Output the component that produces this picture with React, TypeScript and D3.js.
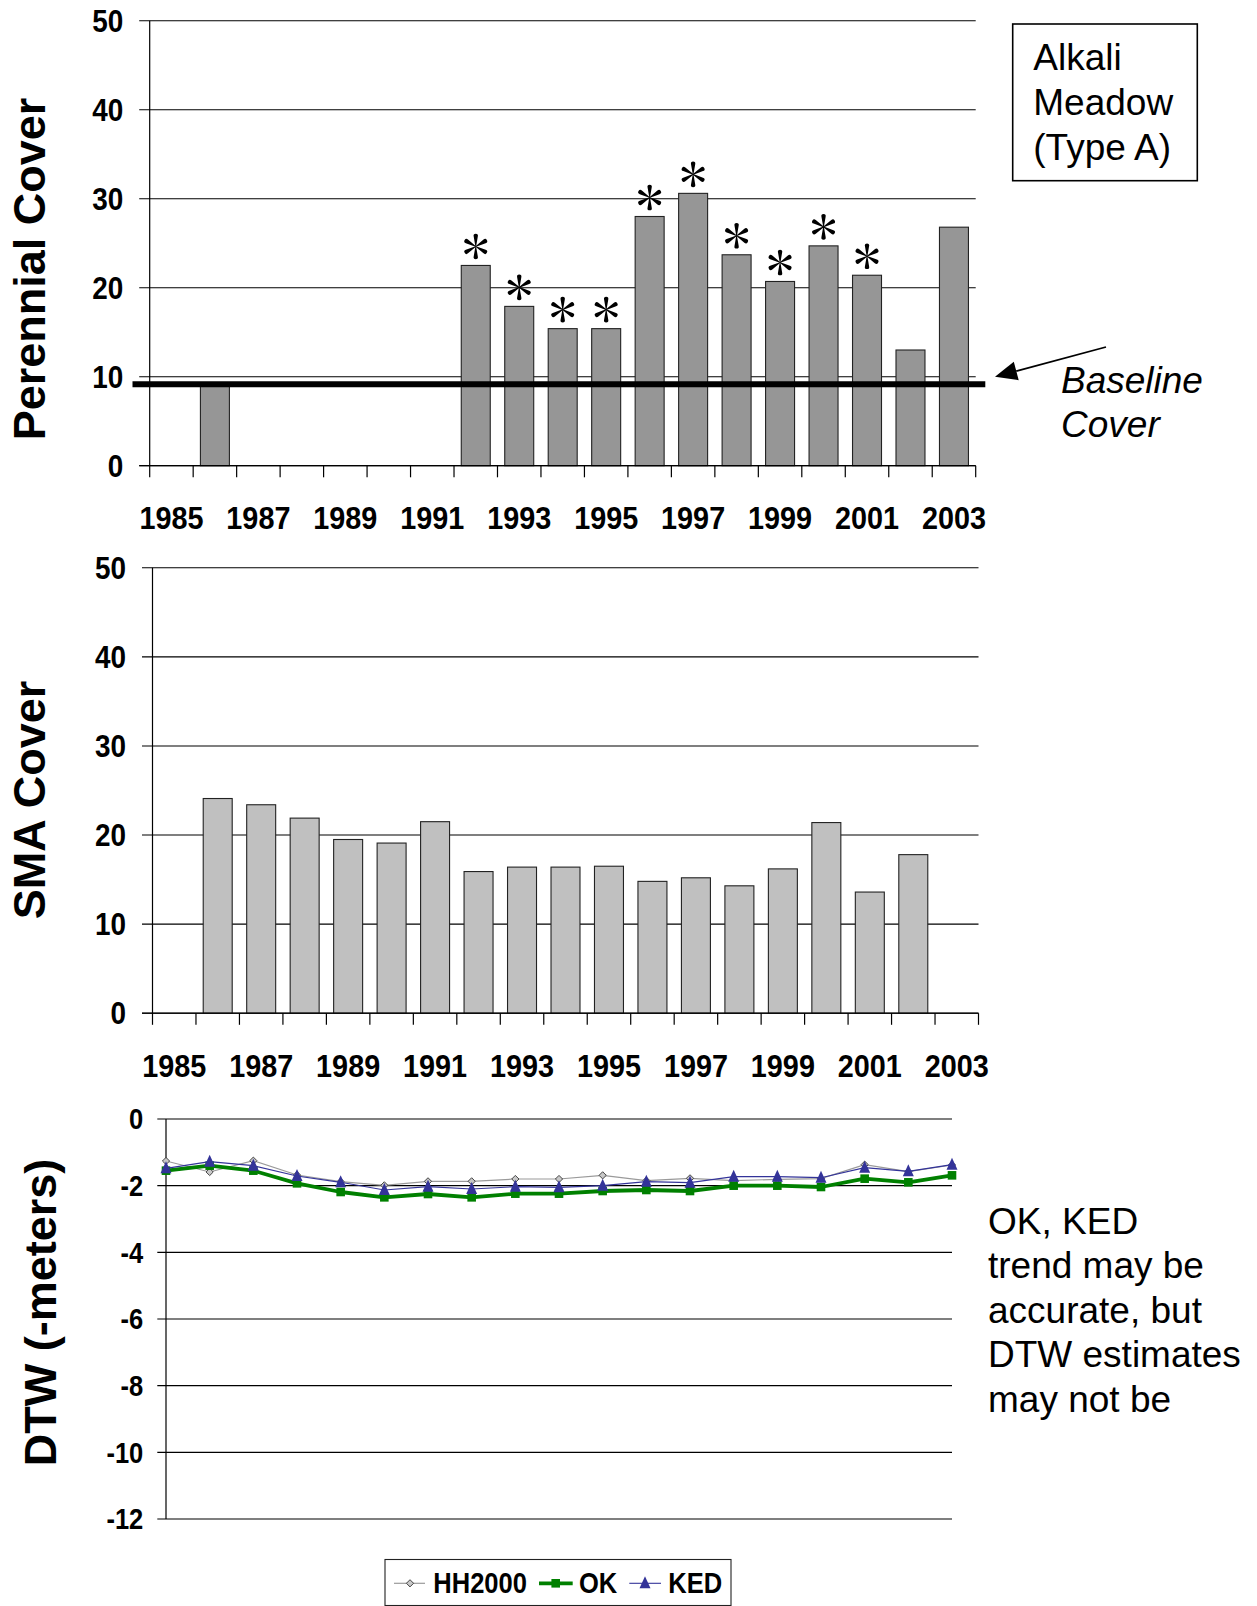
import React from "react";
import * as d3 from "d3";

// ---- data ----
const YEARS = [1985, 1986, 1987, 1988, 1989, 1990, 1991, 1992, 1993, 1994, 1995, 1996, 1997, 1998, 1999, 2000, 2001, 2002, 2003];
const YEAR_LABELS = [1985, 1987, 1989, 1991, 1993, 1995, 1997, 1999, 2001, 2003];

const PERENNIAL_COVER: (number | null)[] = [null, 9.3, null, null, null, null, null, 22.5, 17.9, 15.4, 15.4, 28.0, 30.6, 23.7, 20.7, 24.7, 21.4, 13.0, 26.8];
const SIGNIFICANT_YEARS = [1992, 1993, 1994, 1995, 1996, 1997, 1998, 1999, 2000, 2001];
const BASELINE_COVER = 9.15;

const SMA_COVER: (number | null)[] = [null, 24.1, 23.4, 21.9, 19.5, 19.1, 21.5, 15.9, 16.4, 16.4, 16.5, 14.8, 15.2, 14.3, 16.2, 21.4, 13.6, 17.8, null];

const COVER_TICKS = [0, 10, 20, 30, 40, 50];
const DTW_TICKS = [0, -2, -4, -6, -8, -10, -12];

const DTW_HH2000 = [-1.26, -1.59, -1.25, -1.68, -1.88, -1.99, -1.87, -1.87, -1.8, -1.8, -1.69, -1.85, -1.78, -1.85, -1.81, -1.79, -1.37, -1.58, -1.38];
const DTW_OK = [-1.55, -1.4, -1.55, -1.93, -2.19, -2.35, -2.25, -2.35, -2.24, -2.24, -2.16, -2.13, -2.16, -2.0, -2.0, -2.04, -1.79, -1.9, -1.69];
const DTW_KED = [-1.48, -1.28, -1.4, -1.71, -1.9, -2.13, -2.03, -2.1, -2.03, -2.05, -2.0, -1.88, -1.91, -1.73, -1.73, -1.76, -1.46, -1.57, -1.37];

const SERIES_NAMES = ["HH2000", "OK", "KED"];
const NOTE_LINES = ["OK, KED", "trend may be", "accurate, but", "DTW estimates", "may not be"];

const SANS = "'Liberation Sans', Arial, sans-serif";

// bold, slightly narrow label text
function NarrowText({ x, y, size, sx = 0.9, anchor = "middle", children }: any) {
  return (
    <text
      transform={`translate(${x},${y}) scale(${sx},1)`}
      fontSize={size}
      fontWeight="bold"
      fontFamily={SANS}
      textAnchor={anchor}
      fill="#000"
    >
      {children}
    </text>
  );
}

// six-armed asterisk with teardrop arms, centred on (0,0)
const ASTERISK_ARM = "M-0.35,0L-2.1,-10.2A2.15,2.15 0 1 1 2.1,-10.2L0.35,0Z";
function Asterisk({ cx, cy }: { cx: number; cy: number }) {
  return (
    <g transform={`translate(${cx},${cy})`}>
      {[0, 60, 120, 180, 240, 300].map((a) => (
        <path key={a} d={ASTERISK_ARM} transform={`rotate(${a})`} fill="#000" />
      ))}
    </g>
  );
}

type BarPanelProps = {
  left: number;
  right: number;
  top: number;
  bottom: number;
  values: (number | null)[];
  fill: string;
  title: string;
  titleX: number;
  titleY: number;
  stars?: number[];
  baseline?: { value: number; x0: number; x1: number };
};

function BarPanel({ left, right, top, bottom, values, fill, title, titleX, titleY, stars, baseline }: BarPanelProps) {
  const x = d3.scaleBand<number>().domain(YEARS).range([left, right]).paddingInner(1 / 3).paddingOuter(1 / 6);
  const edge = d3.scaleLinear().domain([0, YEARS.length]).range([left, right]);
  const y = d3.scaleLinear().domain([0, 50]).range([bottom, top]);
  const bw = x.bandwidth();

  return (
    <g>
      {/* gridlines with left ticks */}
      {COVER_TICKS.map((t) => (
        <line key={"g" + t} x1={left - 10.5} x2={right} y1={y(t)} y2={y(t)} stroke="#000" strokeWidth={1.1} />
      ))}
      {COVER_TICKS.map((t) => (
        <NarrowText key={"yl" + t} x={left - 26.5} y={y(t) + 11.2} size={31} anchor="end">
          {t}
        </NarrowText>
      ))}
      {/* bars */}
      {YEARS.map((yr, i) => {
        const v = values[i];
        if (v == null) return null;
        return (
          <rect
            key={"b" + yr}
            x={x(yr)}
            y={y(v)}
            width={bw}
            height={bottom - y(v)}
            fill={fill}
            stroke="#222"
            strokeWidth={1.1}
          />
        );
      })}
      {/* axes */}
      <line x1={left} x2={left} y1={top} y2={bottom} stroke="#000" strokeWidth={1.2} />
      <line x1={left - 10.5} x2={right} y1={bottom} y2={bottom} stroke="#000" strokeWidth={1.2} />
      {d3.range(YEARS.length + 1).map((i) => (
        <line key={"xt" + i} x1={edge(i)} x2={edge(i)} y1={bottom} y2={bottom + 11.6} stroke="#000" strokeWidth={1.2} />
      ))}
      {YEAR_LABELS.map((yr) => (
        <NarrowText key={"xl" + yr} x={(x(yr) as number) + bw / 2} y={bottom + 63.6} size={32}>
          {yr}
        </NarrowText>
      ))}
      {/* significance markers */}
      {stars &&
        stars.map((yr) => {
          const v = values[YEARS.indexOf(yr)] as number;
          return <Asterisk key={"s" + yr} cx={(x(yr) as number) + bw / 2} cy={y(v) - 19} />;
        })}
      {baseline && (
        <line
          x1={baseline.x0}
          x2={baseline.x1}
          y1={y(baseline.value)}
          y2={y(baseline.value)}
          stroke="#000"
          strokeWidth={6}
        />
      )}
      <text
        transform={`translate(${titleX},${titleY}) rotate(-90)`}
        fontSize={45}
        fontWeight="bold"
        fontFamily={SANS}
        textAnchor="middle"
      >
        {title}
      </text>
    </g>
  );
}

const diamondPath = (cx: number, cy: number, r: number) => `M${cx},${cy - r}L${cx + r},${cy}L${cx},${cy + r}L${cx - r},${cy}Z`;
const squarePath = (cx: number, cy: number, r: number) => `M${cx - r},${cy - r}H${cx + r}V${cy + r}H${cx - r}Z`;
const trianglePath = (cx: number, cy: number, w: number, h: number) =>
  `M${cx},${cy - h * 0.58}L${cx + w / 2},${cy + h * 0.42}L${cx - w / 2},${cy + h * 0.42}Z`;

function DtwPanel() {
  const left = 166;
  const right = 952;
  const top = 1119;
  const bottom = 1519;
  const x = d3.scalePoint<number>().domain(YEARS).range([left, right]);
  const y = d3.scaleLinear().domain([-12, 0]).range([bottom, top]);
  const line = d3
    .line<number>()
    .x((_, i) => x(YEARS[i]) as number)
    .y((d) => y(d));

  return (
    <g>
      {DTW_TICKS.map((t) => (
        <line key={"g" + t} x1={left - 8.7} x2={right} y1={y(t)} y2={y(t)} stroke="#000" strokeWidth={1.1} />
      ))}
      {DTW_TICKS.map((t) => (
        <NarrowText key={"l" + t} x={left - 22.7} y={y(t) + 10.4} size={29} sx={0.88} anchor="end">
          {t}
        </NarrowText>
      ))}
      <line x1={left} x2={left} y1={top} y2={bottom} stroke="#000" strokeWidth={1.2} />

      {/* HH2000 */}
      <path d={line(DTW_HH2000) as string} fill="none" stroke="#9a9a9a" strokeWidth={1.2} />
      {DTW_HH2000.map((v, i) => (
        <path key={"h" + i} d={diamondPath(x(YEARS[i]) as number, y(v), 3.6)} fill="#c8c8c8" stroke="#333" strokeWidth={0.9} />
      ))}
      {/* OK */}
      <path d={line(DTW_OK) as string} fill="none" stroke="#008000" strokeWidth={3.8} strokeLinejoin="round" />
      {DTW_OK.map((v, i) => (
        <path key={"o" + i} d={squarePath(x(YEARS[i]) as number, y(v), 4.3)} fill="#008000" />
      ))}
      {/* KED */}
      <path d={line(DTW_KED) as string} fill="none" stroke="#333399" strokeWidth={1.1} />
      {DTW_KED.map((v, i) => (
        <path key={"k" + i} d={trianglePath(x(YEARS[i]) as number, y(v), 11, 12)} fill="#333399" />
      ))}

      <text
        transform={`translate(56,1312.5) rotate(-90)`}
        fontSize={45}
        fontWeight="bold"
        fontFamily={SANS}
        textAnchor="middle"
      >
        DTW (-meters)
      </text>

      {/* legend */}
      <rect x={385} y={1559.5} width={346} height={46} fill="#fff" stroke="#222" strokeWidth={1.1} />
      <line x1={394} x2={425} y1={1583.3} y2={1583.3} stroke="#9a9a9a" strokeWidth={1.2} />
      <path d={diamondPath(410, 1583.3, 3.6)} fill="#c8c8c8" stroke="#333" strokeWidth={0.9} />
      <NarrowText x={433.3} y={1593.3} size={29} sx={0.88} anchor="start">
        {SERIES_NAMES[0]}
      </NarrowText>
      <line x1={539} x2={572.7} y1={1583.3} y2={1583.3} stroke="#008000" strokeWidth={3.8} />
      <path d={squarePath(555.7, 1583.3, 4.3)} fill="#008000" />
      <NarrowText x={579} y={1593.3} size={29} sx={0.88} anchor="start">
        {SERIES_NAMES[1]}
      </NarrowText>
      <line x1={629.3} x2={661} y1={1583.3} y2={1583.3} stroke="#333399" strokeWidth={1.1} />
      <path d={trianglePath(645, 1583.3, 11, 12)} fill="#333399" />
      <NarrowText x={668.3} y={1593.3} size={29} sx={0.88} anchor="start">
        {SERIES_NAMES[2]}
      </NarrowText>

      {/* note */}
      <text fontFamily={SANS} fontSize={37} fill="#000">
        {NOTE_LINES.map((s, i) => (
          <tspan key={s} x={988} y={1234 + i * 44.4}>
            {s}
          </tspan>
        ))}
      </text>
    </g>
  );
}

function BaselineCallout() {
  const tip: [number, number] = [995, 376.7];
  const tail: [number, number] = [1106, 347];
  const ang = Math.atan2(tail[1] - tip[1], tail[0] - tip[0]);
  const len = 22;
  const hw = 9.5;
  const bx = tip[0] + len * Math.cos(ang);
  const by = tip[1] + len * Math.sin(ang);
  const px = -Math.sin(ang) * hw;
  const py = Math.cos(ang) * hw;
  return (
    <g>
      <line x1={bx} y1={by} x2={tail[0]} y2={tail[1]} stroke="#000" strokeWidth={1.8} />
      <path d={`M${tip[0]},${tip[1]}L${bx + px},${by + py}L${bx - px},${by - py}Z`} fill="#000" />
      <text fontFamily={SANS} fontStyle="italic" fontSize={37} fill="#000">
        <tspan x={1061} y={393.3}>Baseline</tspan>
        <tspan x={1061} y={436.7}>Cover</tspan>
      </text>
    </g>
  );
}

function TypeBox() {
  return (
    <g>
      <rect x={1012.7} y={24} width={184.6} height={156.7} fill="#fff" stroke="#000" strokeWidth={1.6} />
      <text fontFamily={SANS} fontSize={37} fill="#000">
        <tspan x={1033.3} y={70}>Alkali</tspan>
        <tspan x={1033.3} y={115}>Meadow</tspan>
        <tspan x={1033.3} y={160}>(Type A)</tspan>
      </text>
    </g>
  );
}

export default function App() {
  return (
    <svg
      width={1257}
      height={1606}
      viewBox="0 0 1257 1606"
      style={{ position: "absolute", left: 0, top: 0, background: "#fff" }}
    >
      <rect width={1257} height={1606} fill="#fff" />
      <BarPanel
        left={149.7}
        right={975.7}
        top={20.7}
        bottom={465.7}
        values={PERENNIAL_COVER}
        fill="#969696"
        title="Perennial Cover"
        titleX={45}
        titleY={269}
        stars={SIGNIFICANT_YEARS}
        baseline={{ value: BASELINE_COVER, x0: 132.5, x1: 985.3 }}
      />
      <BaselineCallout />
      <TypeBox />
      <BarPanel
        left={152.5}
        right={978.5}
        top={567.8}
        bottom={1013.2}
        values={SMA_COVER}
        fill="#c0c0c0"
        title="SMA Cover"
        titleX={45}
        titleY={800}
      />
      <DtwPanel />
    </svg>
  );
}
